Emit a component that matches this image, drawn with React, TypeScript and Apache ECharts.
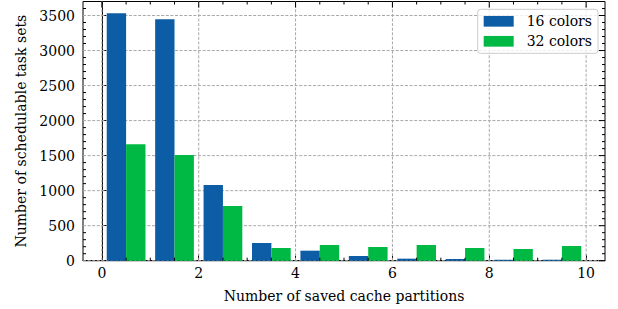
import React, { useEffect, useRef } from "react";
import * as echarts from "echarts";

const bins = [0, 1, 2, 3, 4, 5, 6, 7, 8, 9];
const colors16 = [3533, 3447, 1080, 253, 143, 67, 29, 24, 14, 14];
const colors32 = [1664, 1508, 780, 181, 224, 196, 224, 181, 167, 210];
const seriesNames = ["16 colors", "32 colors"];
const xMajorTicks = [0, 2, 4, 6, 8, 10];
const xMinorTicks = [0.5, 1, 1.5, 2.5, 3, 3.5, 4.5, 5, 5.5, 6.5, 7, 7.5, 8.5, 9, 9.5];
const yMajorTicks = [0, 500, 1000, 1500, 2000, 2500, 3000, 3500];
const yMinorTicks = [
  100, 200, 300, 400, 600, 700, 800, 900, 1100, 1200, 1300, 1400, 1600, 1700, 1800, 1900,
  2100, 2200, 2300, 2400, 2600, 2700, 2800, 2900, 3100, 3200, 3300, 3400, 3600,
];

const BLUE = "#0C5DA5";
const GREEN = "#00B945";
const F = "DejaVu Serif";
const X_MIN = -0.39;
const X_MAX = 10.39;
const Y_MAX = 3700;

// kind codes for decoration marks
const K_XGRID = 0, K_YGRID = 1, K_XMAJ_TOP = 2, K_XMIN = 3, K_YMAJ_RIGHT = 4, K_YMIN = 5;

export default function App() {
  const ref = useRef<HTMLDivElement>(null);
  useEffect(() => {
    if (!ref.current) return;
    document.body.style.margin = "0";
    const chart = echarts.init(ref.current, undefined, { renderer: "svg" });

    const renderBar = (color: string) => (params: any, api: any) => {
      const p0 = api.coord([api.value(0), api.value(2)]);
      const p1 = api.coord([api.value(1), 0]);
      return {
        type: "rect",
        shape: { x: p0[0], y: p0[1], width: p1[0] - p0[0], height: p1[1] - p0[1] },
        style: { fill: color },
      };
    };

    const gridData = [
      ...xMajorTicks.map((v) => [K_XGRID, v]),
      ...yMajorTicks.map((v) => [K_YGRID, v]),
    ];
    const tickData = [
      ...xMajorTicks.map((v) => [K_XMAJ_TOP, v]),
      ...xMinorTicks.map((v) => [K_XMIN, v]),
      ...yMajorTicks.map((v) => [K_YMAJ_RIGHT, v]),
      ...yMinorTicks.map((v) => [K_YMIN, v]),
    ];

    const renderGrid = (params: any, api: any) => {
      const kind = api.value(0);
      const v = api.value(1);
      let a, b;
      if (kind === K_XGRID) {
        a = api.coord([v, 0]);
        b = api.coord([v, Y_MAX]);
      } else {
        a = api.coord([X_MIN, v]);
        b = api.coord([X_MAX, v]);
      }
      return {
        type: "line",
        shape: { x1: a[0], y1: a[1], x2: b[0], y2: b[1] },
        style: { stroke: "#a8a8a8", lineWidth: 1, lineDash: [3, 1.6] },
      };
    };

    const renderTicks = (params: any, api: any) => {
      const kind = api.value(0);
      const v = api.value(1);
      const st = { stroke: "#000", lineWidth: 1 };
      if (kind === K_XMAJ_TOP) {
        const t = api.coord([v, Y_MAX]);
        return { type: "line", shape: { x1: t[0], y1: t[1], x2: t[0], y2: t[1] + 6 }, style: st };
      }
      if (kind === K_XMIN) {
        const bt = api.coord([v, 0]);
        const tp = api.coord([v, Y_MAX]);
        return {
          type: "group",
          children: [
            { type: "line", shape: { x1: bt[0], y1: bt[1], x2: bt[0], y2: bt[1] - 3 }, style: st },
            { type: "line", shape: { x1: tp[0], y1: tp[1], x2: tp[0], y2: tp[1] + 3 }, style: st },
          ],
        };
      }
      if (kind === K_YMAJ_RIGHT) {
        const r = api.coord([X_MAX, v]);
        return { type: "line", shape: { x1: r[0], y1: r[1], x2: r[0] - 6, y2: r[1] }, style: st };
      }
      const l = api.coord([X_MIN, v]);
      const r = api.coord([X_MAX, v]);
      return {
        type: "group",
        children: [
          { type: "line", shape: { x1: l[0], y1: l[1], x2: l[0] + 3, y2: l[1] }, style: st },
          { type: "line", shape: { x1: r[0], y1: r[1], x2: r[0] - 3, y2: r[1] }, style: st },
        ],
      };
    };

    const option: any = {
      animation: false,
      grid: {
        left: 83,
        right: 13,
        top: 1.5,
        bottom: 48.3,
        show: true,
        borderColor: "#000",
        borderWidth: 1,
        backgroundColor: "transparent",
      },
      legend: {
        orient: "vertical",
        right: 20,
        top: 9.3,
        data: seriesNames,
        icon: "rect",
        itemWidth: 30,
        itemHeight: 10.7,
        itemGap: 6,
        padding: [5, 6, 5, 6],
        backgroundColor: "rgba(255,255,255,0.8)",
        borderColor: "#cccccc",
        borderWidth: 1,
        borderRadius: 3,
        textStyle: { fontFamily: F, fontSize: 14, color: "#000", padding: [0, 0, 0, 8] },
      },
      xAxis: {
        type: "value",
        min: X_MIN,
        max: X_MAX,
        axisLine: { show: true, lineStyle: { color: "#000", width: 1 } },
        axisTick: { show: true, inside: true, length: 6, customValues: xMajorTicks, lineStyle: { color: "#000", width: 1 } },
        axisLabel: { customValues: xMajorTicks, margin: 5, fontFamily: F, fontSize: 14, color: "#000" },
        splitLine: { show: false },
        name: "Number of saved cache partitions",
        nameLocation: "middle",
        nameGap: 28,
        nameTextStyle: { fontFamily: F, fontSize: 14, color: "#000" },
      },
      yAxis: {
        type: "value",
        min: 0,
        max: Y_MAX,
        axisLine: { show: true, lineStyle: { color: "#000", width: 1 } },
        axisTick: { show: true, inside: true, length: 6, customValues: yMajorTicks, lineStyle: { color: "#000", width: 1 } },
        axisLabel: {
          customValues: yMajorTicks,
          formatter: (v: number) => String(v),
          margin: 8,
          fontFamily: F,
          fontSize: 14,
          color: "#000",
        },
        splitLine: { show: false },
        name: "Number of schedulable task sets",
        nameLocation: "middle",
        nameGap: 51,
        nameTextStyle: { fontFamily: F, fontSize: 14, color: "#000" },
      },
      series: [
        {
          name: "grid",
          type: "custom",
          silent: true,
          z: 1,
          renderItem: renderGrid,
          data: gridData,
        },
        {
          name: seriesNames[0],
          type: "custom",
          z: 2,
          itemStyle: { color: BLUE },
          encode: { x: [0, 1], y: 2 },
          renderItem: renderBar(BLUE),
          data: bins.map((b, i) => [b + 0.1, b + 0.5, colors16[i]]),
        },
        {
          name: seriesNames[1],
          type: "custom",
          z: 2,
          itemStyle: { color: GREEN },
          encode: { x: [0, 1], y: 2 },
          renderItem: renderBar(GREEN),
          data: bins.map((b, i) => [b + 0.5, b + 0.9, colors32[i]]),
        },
        {
          name: "ticks",
          type: "custom",
          silent: true,
          z: 3,
          renderItem: renderTicks,
          data: tickData,
        },
      ],
    };
    chart.setOption(option);
    return () => chart.dispose();
  }, []);
  return <div ref={ref} style={{ width: 618, height: 309 }} />;
}
